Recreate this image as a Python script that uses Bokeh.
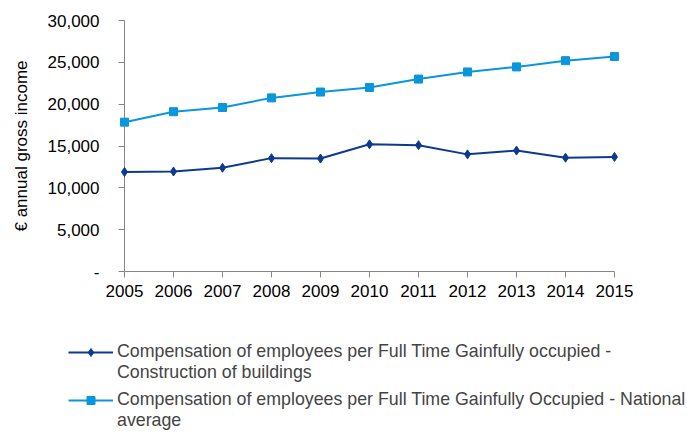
from bokeh.plotting import figure
from bokeh.models import Range1d, Legend, LegendItem, CustomJSTickFormatter, FixedTicker
from bokeh.embed import file_html
from bokeh.resources import INLINE

years = [2005, 2006, 2007, 2008, 2009, 2010, 2011, 2012, 2013, 2014, 2015]
construction = [11900, 11950, 12400, 13550, 13500, 15200, 15100, 14000, 14450, 13600, 13700]
national = [17850, 19100, 19600, 20750, 21450, 22000, 23000, 23850, 24450, 25200, 25700]
y_ticks = [0, 5000, 10000, 15000, 20000, 25000, 30000]
label_construction = ["Compensation of employees per Full Time Gainfully occupied -",
                      "Construction of buildings"]
label_national = ["Compensation of employees per Full Time Gainfully Occupied - National",
                  "average"]

DARK = "#0B3A8F"
LIGHT = "#0A96DC"
FONT = "Liberation Sans"
FS = "17px"
LFS = "17.8px"

p = figure(width=687, height=320, output_backend="svg", toolbar_location=None,
           x_range=Range1d(2005, 2015), y_range=Range1d(0, 30000),
           min_border_left=124, min_border_right=73, min_border_top=20, min_border_bottom=49)
p.outline_line_color = None
p.xgrid.grid_line_color = None
p.ygrid.grid_line_color = None

for ax in (p.xaxis[0], p.yaxis[0]):
    ax.axis_line_color = "#868686"
    ax.major_tick_line_color = "#868686"
    ax.major_tick_out = 6
    ax.major_tick_in = 0
    ax.minor_tick_line_color = None
    ax.major_label_text_font = FONT
    ax.major_label_text_font_size = FS
    ax.major_label_text_color = "#000000"

p.xaxis.ticker = FixedTicker(ticks=years)
p.xaxis.major_label_standoff = 7
p.yaxis.ticker = FixedTicker(ticks=y_ticks)
p.yaxis.formatter = CustomJSTickFormatter(code="return tick == 0 ? '-' : tick.toLocaleString('en-US');")
p.yaxis.major_label_standoff = 19
p.yaxis.axis_label = "€ annual gross income"
p.yaxis.axis_label_text_font = FONT
p.yaxis.axis_label_text_font_size = FS
p.yaxis.axis_label_text_font_style = "normal"
p.yaxis.axis_label_text_color = "#000000"
p.yaxis.axis_label_standoff = 14

p.line(years, construction, line_color=DARK, line_width=2, level="overlay")
p.scatter(years, construction, marker="diamond", size=9, fill_color=DARK, line_color=DARK, level="overlay")
p.line(years, national, line_color=LIGHT, line_width=2, level="overlay")
p.scatter(years, national, marker="square", size=8, fill_color=LIGHT, line_color=LIGHT, level="overlay")

# legend panel (its glyph renderers fall outside its range and are not drawn)
lf = figure(width=687, height=112, output_backend="svg", toolbar_location=None,
            x_range=Range1d(0, 1), y_range=Range1d(0, 1),
            x_axis_type=None, y_axis_type=None,
            min_border_left=0, min_border_right=0, min_border_top=0, min_border_bottom=0)
lf.grid.visible = False
lf.outline_line_color = None
r1l = lf.line(years, construction, line_color=DARK, line_width=2)
r1m = lf.scatter(years, construction, marker="diamond", size=9, fill_color=DARK, line_color=DARK)
r2l = lf.line(years, national, line_color=LIGHT, line_width=2)
r2m = lf.scatter(years, national, marker="square", size=8, fill_color=LIGHT, line_color=LIGHT)
blank = lf.line(years, national, line_alpha=0)


def make_legend(lines, renderers, loc):
    return Legend(items=[LegendItem(label=lines[0], renderers=renderers),
                         LegendItem(label=lines[1], renderers=[blank])],
                  location=loc, orientation="vertical",
                  label_text_font=FONT, label_text_font_size=LFS,
                  glyph_width=45, glyph_height=20, label_height=20, label_standoff=4, spacing=0,
                  padding=0, margin=0, border_line_color=None, background_fill_alpha=0)


lf.add_layout(make_legend(label_construction, [r1l, r1m], (68, 49)))
lf.add_layout(make_legend(label_national, [r2l, r2m], (68, 1)))

open("out.html", "w").write(file_html([p, lf], INLINE))
